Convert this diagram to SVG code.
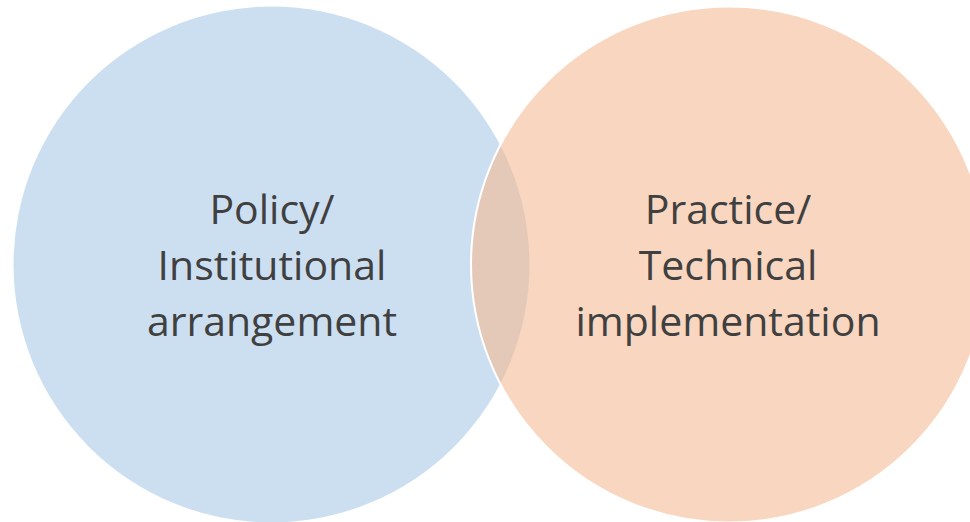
<svg xmlns="http://www.w3.org/2000/svg" width="970" height="522" viewBox="0 0 970 522">
<style>
.lbl{font-family:"Open Sans","Liberation Sans",sans-serif;font-size:41px;fill:#404040;text-anchor:middle}
</style>
<rect width="970" height="522" fill="#ffffff"/>
<g id="policy">
<circle cx="271.5" cy="264.5" r="258" fill="#CCDFF1"/>
</g>
<g id="practice">
<circle cx="729" cy="264.5" r="258" fill="#F3BB94" fill-opacity="0.6" stroke="#ffffff" stroke-width="2"/>
</g>
<g id="labels">
<text class="lbl" x="272" y="224">Policy/</text>
<text class="lbl" x="272" y="280">Institutional</text>
<text class="lbl" x="272" y="336">arrangement</text>
<text class="lbl" x="728" y="224">Practice/</text>
<text class="lbl" x="728" y="280">Technical</text>
<text class="lbl" x="728" y="336">implementation</text>
</g>
<g id="connectors"/>
</svg>
